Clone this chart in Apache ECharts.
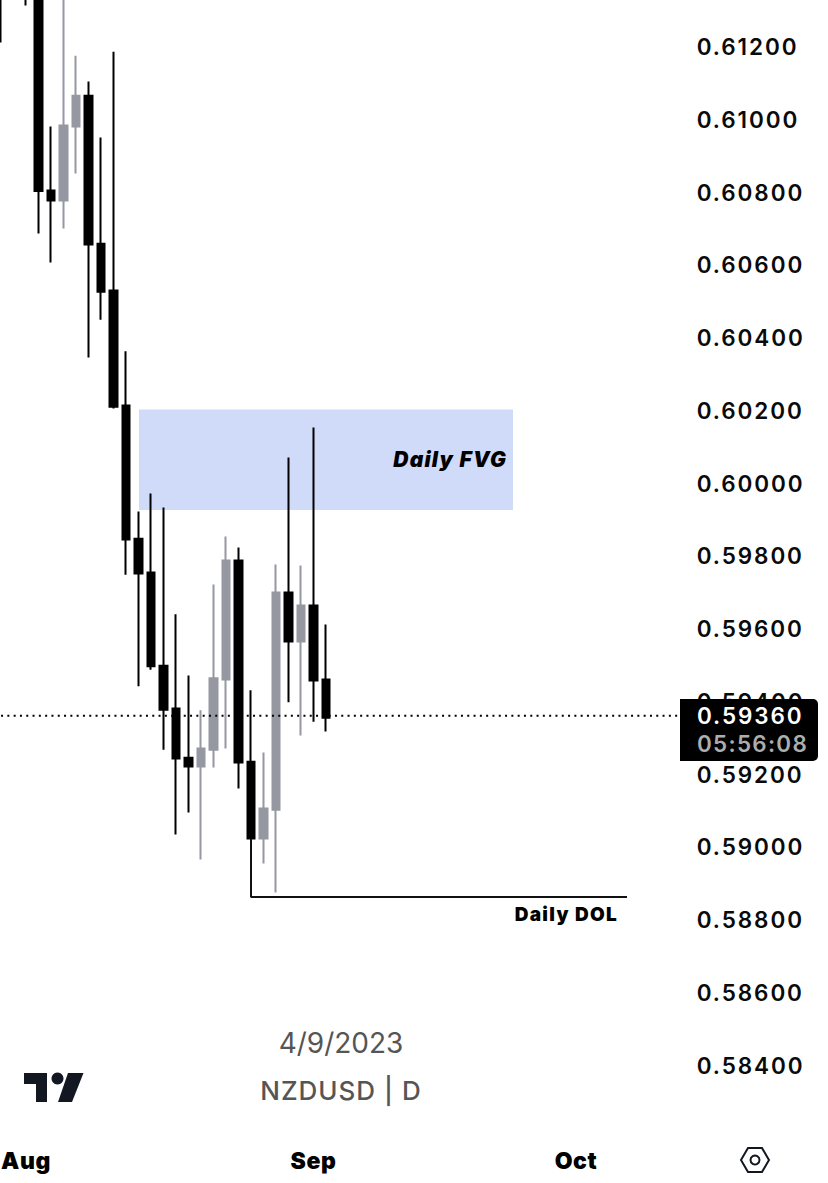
<!DOCTYPE html>
<html><head><meta charset="utf-8">
<style>html,body{margin:0;padding:0;background:#fff}#c{width:828px;height:1183px}
#c text[style*="22.5px"]{letter-spacing:1.9px}
#c text[style*="22.4px"]{letter-spacing:1.3px}
#c text[style*="21px"]{letter-spacing:1.2px}
#c text[style*="19px"]{letter-spacing:1.3px}
#c text[style*="26px"]{letter-spacing:1px}
#c text[style*="23px"]{letter-spacing:.6px}
</style>
<script src="https://cdn.jsdelivr.net/npm/echarts@6/dist/echarts.min.js"></script>
</head><body><div id="c"></div>
<script>
const dates = ['07-28','07-31','08-01','08-02','08-03','08-04','08-07','08-08','08-09','08-10','08-11','08-14','08-15','08-16','08-17','08-18','08-21','08-22','08-23','08-24','08-25','08-28','08-29','08-30','08-31','09-01','09-04','09-05','09-06','09-07','09-08','09-11','09-12','09-13','09-14','09-15','09-18','09-19','09-20','09-21','09-22','09-25','09-26','09-27','09-28','09-29','10-02','10-03','10-04','10-05','10-06','10-09','10-10','10-11','10-12'];
const monthTicks = {'08-01':'Aug','09-01':'Sep','10-02':'Oct'};
const opens  = [0.6149,0.6160,0.6148,0.6140,0.60804,0.60777,0.60980,0.61065,0.60658,0.60529,0.60213,0.59847,0.59754,0.59498,0.59380,0.59245,0.59221,0.59267,0.59460,0.59787,0.59234,0.59023,0.59102,0.59699,0.59564,0.59663,0.59460];
const closes = [0.6138,0.6150,0.6137,0.60803,0.60777,0.60983,0.61065,0.60656,0.60526,0.60210,0.59845,0.59751,0.59496,0.59377,0.59243,0.59221,0.59270,0.59463,0.59787,0.59232,0.59023,0.59105,0.59699,0.59564,0.59663,0.59457,0.59355];
const lows   = [0.61211,0.6146,0.61313,0.60686,0.60606,0.60700,0.60851,0.60345,0.60449,0.60205,0.59748,0.59441,0.59487,0.59267,0.59034,0.59094,0.58965,0.59218,0.59270,0.59160,0.59023,0.58954,0.58874,0.59397,0.59306,0.59344,0.59317];
const highs  = [0.6155,0.6165,0.6152,0.6152,0.60980,0.6145,0.61175,0.61104,0.60950,0.61186,0.60362,0.59922,0.59971,0.59933,0.59639,0.59471,0.59375,0.59721,0.59853,0.59823,0.59430,0.59259,0.59776,0.60070,0.59773,0.60153,0.59611];
const lastPrice = 0.5936;
const countdown = '05:56:08';
const fvgTop = 0.60202, fvgBottom = 0.59926;
const fvgStart = 11.04, fvgEnd = 40.96;
const dolLevel = 0.58862, dolFrom = 0.59023, dolStartIdx = 20, dolEndIdx = 50.08;

const GRAY = '#9598a1', BLACK = '#000000';
const uiFont = 'Inter, "Liberation Sans", sans-serif';
const ohlc = opens.map((o,i)=>[o,closes[i],lows[i],highs[i]]);
const chart = echarts.init(document.getElementById('c'), null, {renderer:'svg'});
chart.setOption({
  animation:false,
  backgroundColor:'#ffffff',
  grid:{left:-5.25,top:0,width:687.5,height:1065,containLabel:false,outerBoundsMode:'none'},
  xAxis:[
    {type:'category',data:dates,boundaryGap:true,axisLine:{show:false},axisTick:{show:false},splitLine:{show:false},
     axisLabel:{interval:(i,v)=>v in monthTicks,formatter:v=>monthTicks[v]||'',margin:84,fontFamily:uiFont,fontWeight:900,fontSize:23,color:'#000',verticalAlign:'top',hideOverlap:false}},
    {type:'value',min:-0.5,max:54.5,show:false}
  ],
  yAxis:{type:'value',position:'right',min:0.584,max:0.61328,interval:0.002,axisLine:{show:false},axisTick:{show:false},splitLine:{show:false},
    axisLabel:{showMaxLabel:false,margin:14.5,fontFamily:uiFont,fontWeight:600,fontSize:22.5,color:'#0a0a0a',formatter:v=>v.toFixed(5)}},
  series:[
    {name:'FVG',type:'line',xAxisIndex:1,z:1,data:[],symbol:'none',
     markArea:{silent:true,itemStyle:{color:'#d0dbf9'},
       label:{show:true,position:'insideRight',distance:6,fontFamily:uiFont,fontStyle:'italic',fontWeight:900,fontSize:21,color:'#000'},
       data:[[{name:'Daily FVG',coord:[fvgStart,fvgTop]},{coord:[fvgEnd,fvgBottom]}]]}},
    {name:'NZDUSD',type:'candlestick',z:2,barWidth:8,data:ohlc,
     itemStyle:{color:GRAY,color0:BLACK,borderColor:GRAY,borderColor0:BLACK,borderWidth:2}},
    {name:'Last',type:'line',xAxisIndex:1,z:3,symbol:'none',silent:true,
     lineStyle:{color:'#000',width:2,type:[2,4.3]},data:[[-0.5,lastPrice],[54.5,lastPrice]]},
    {name:'DOL',type:'line',xAxisIndex:1,z:3,symbol:'none',silent:true,
     lineStyle:{color:'#111',width:2},data:[[dolStartIdx,dolFrom],[dolStartIdx,dolLevel],[dolEndIdx,dolLevel]]}
  ],
  graphic:[
    {type:'rect',z:100,shape:{x:680,y:699,width:138,height:62,r:[0,5,5,0]},style:{fill:'#000'}},
    {type:'text',z:101,style:{x:697,y:715.5,text:lastPrice.toFixed(5),fill:'#fff',font:'600 22.5px '+uiFont,verticalAlign:'middle'}},
    {type:'text',z:101,style:{x:697,y:743.5,text:countdown,fill:'#adadad',font:'600 22.4px '+uiFont,verticalAlign:'middle'}},
    {type:'text',z:101,style:{x:618,y:914,text:'Daily DOL',fill:'#000',font:'900 19px '+uiFont,align:'right',verticalAlign:'middle'}},
    {type:'text',z:101,style:{x:341,y:1043,text:'4/9/2023',fill:'#555',font:'400 28px '+uiFont,align:'center',verticalAlign:'middle'}},
    {type:'text',z:101,style:{x:341,y:1090,text:'NZDUSD | D',fill:'#555',font:'500 26px '+uiFont,align:'center',verticalAlign:'middle'}},
    {type:'polygon',z:101,shape:{points:[[24,1073],[47,1073],[47,1102],[36,1102],[36,1084],[24,1084]]},style:{fill:'#131722'}},
    {type:'circle',z:101,shape:{cx:57.5,cy:1078.5,r:6},style:{fill:'#131722'}},
    {type:'polygon',z:101,shape:{points:[[68,1073],[83.5,1073],[72,1102],[58,1102]]},style:{fill:'#131722'}},
    {type:'polygon',z:101,shape:{points:[[741,1160],[748,1148],[762,1148],[769,1160],[762,1172],[748,1172]]},style:{fill:'none',stroke:'#131722',lineWidth:2}},
    {type:'circle',z:101,shape:{cx:755,cy:1160,r:4.5},style:{fill:'none',stroke:'#131722',lineWidth:2}}
  ]
});
</script></body></html>
